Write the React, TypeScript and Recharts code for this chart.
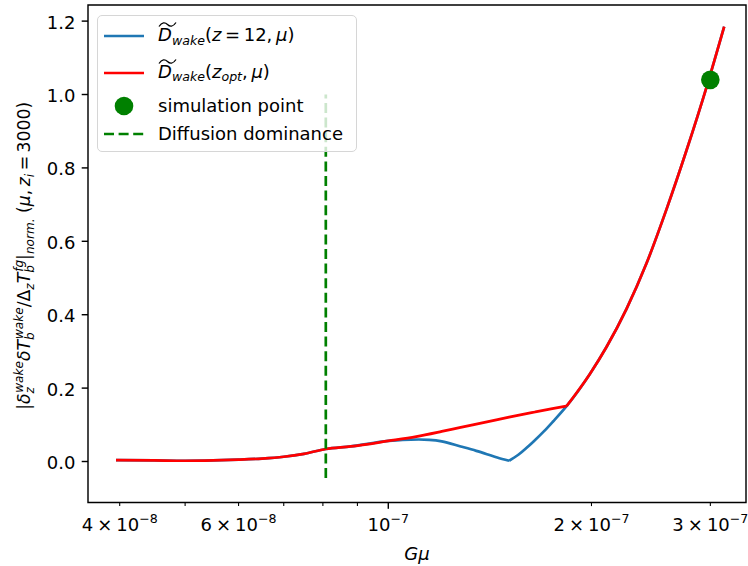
import React from 'react';
import { ComposedChart, Line, XAxis, YAxis, ReferenceArea, Legend } from 'recharts';

const W = 748;
const H = 566;
const FONT = '"DejaVu Sans", sans-serif';

// Low-tension part, where both redshift choices give the same signal
const GMU_LOW = [3.95e-8, 4.5e-8, 5.0e-8, 5.5e-8, 6.0e-8, 6.5e-8, 7.0e-8, 7.5e-8, 8.08e-8, 8.8e-8, 1.0e-7];
const D_LOW = [0.004, 0.003, 0.002, 0.003, 0.005, 0.008, 0.013, 0.021, 0.034, 0.041, 0.056];

// Fixed redshift z = 12: hump and fall to the zero crossing
const GMU_Z12_HUMP = [1.05e-7, 1.11e-7, 1.15e-7, 1.2e-7, 1.28e-7, 1.35e-7, 1.4e-7, 1.45e-7, 1.51e-7];
const D_Z12_HUMP = [0.059, 0.060, 0.059, 0.055, 0.041, 0.029, 0.020, 0.011, 0.002];

// Fixed redshift z = 12: rise after the zero crossing
const GMU_Z12_RISE = [1.51e-7, 1.56e-7, 1.6e-7, 1.64e-7, 1.7e-7, 1.754e-7];
const D_Z12_RISE = [0.002, 0.019, 0.036, 0.054, 0.082, 0.109];

// Optimal redshift, intermediate tensions
const GMU_ZOPT_MID = [1.1e-7, 1.2e-7, 1.28e-7, 1.4e-7, 1.51e-7, 1.65e-7, 1.75e-7];
const D_ZOPT_MID = [0.068, 0.082, 0.093, 0.108, 0.121, 0.135, 0.144];

// High tensions, where both curves coincide again
const GMU_HIGH = [1.837e-7, 1.988e-7, 2.105e-7, 2.254e-7, 2.413e-7, 2.583e-7, 2.766e-7, 2.96e-7, 3.145e-7];
const D_HIGH = [0.151, 0.238, 0.312, 0.416, 0.540, 0.687, 0.848, 1.019, 1.185];

// Simulation result
const SIM_GMU = [3.0e-7];
const SIM_D = [1.04];

// Diffusion dominance threshold
const DIFF_GMU = [8.08e-8, 8.08e-8];
const DIFF_D = [-0.045, 1.0];

// Axes
const X_MIN = 3.59e-8;
const X_MAX = 3.388e-7;
const Y_MIN = -0.1117;
const Y_MAX = 1.2439;
const X_TICKS = [4e-8, 5e-8, 6e-8, 7e-8, 8e-8, 9e-8, 1e-7, 2e-7, 3e-7];
const X_MAJOR = [1e-7];
const X_LABEL_AT = [4e-8, 6e-8, 1e-7, 2e-7, 3e-7];
const X_LABEL_MANT = ['4', '6', '', '2', '3'];
const X_LABEL_EXP = ['\u22128', '\u22128', '\u22127', '\u22127', '\u22127'];
const Y_TICKS = [0, 0.2, 0.4, 0.6, 0.8, 1.0, 1.2];

const COLOR_Z12 = '#1f77b4';
const COLOR_ZOPT = '#ff0000';
const COLOR_GREEN = '#008000';

const zip = (xs: number[], ys: number[]) => xs.map((x, i) => ({ x, y: ys[i] }));

// z = 12 curve: split at the cusp so it stays sharp
const z12Left = zip([...GMU_LOW, ...GMU_Z12_HUMP], [...D_LOW, ...D_Z12_HUMP]);
const z12Right = zip([...GMU_Z12_RISE, ...GMU_HIGH], [...D_Z12_RISE, ...D_HIGH]);
// z_opt curve: split at the kink where it joins the z = 12 branch
const zoptLeft = zip([...GMU_LOW, ...GMU_ZOPT_MID, GMU_HIGH[0]], [...D_LOW, ...D_ZOPT_MID, D_HIGH[0]]);
const zoptRight = zip(GMU_HIGH, D_HIGH);
const simData = zip(SIM_GMU, SIM_D);
const diffData = zip(DIFF_GMU, DIFF_D);

const same = (a: number, b: number) => Math.abs(a - b) / Math.abs(b) < 1e-6;

function XTick(props: any) {
  const { x, y, payload } = props;
  const v = payload.value as number;
  const major = X_MAJOR.some((m) => same(v, m));
  const idx = X_LABEL_AT.findIndex((t) => same(v, t));
  return (
    <g>
      <line x1={x} x2={x} y1={y} y2={y + (major ? 6.3 : 3.6)} stroke="#000" strokeWidth={major ? 1.44 : 1.08} />
      {idx >= 0 && (
        <text x={x} y={y + 28.5} textAnchor="middle" fontFamily={FONT} fontSize={18} fill="#000">
          {X_LABEL_MANT[idx] ? <tspan>{X_LABEL_MANT[idx]}</tspan> : null}
          {X_LABEL_MANT[idx] ? <tspan dx={4}>{'\u00d7'}</tspan> : null}
          <tspan dx={X_LABEL_MANT[idx] ? 4 : 0}>10</tspan>
          <tspan fontSize={12.6} dy={-8}>{X_LABEL_EXP[idx]}</tspan>
        </text>
      )}
    </g>
  );
}

function YTick(props: any) {
  const { x, y, payload } = props;
  return (
    <g>
      <line x1={x - 6.3} x2={x} y1={y} y2={y} stroke="#000" strokeWidth={1.44} />
      <text x={x - 12.6} y={y + 7.5} textAnchor="end" fontFamily={FONT} fontSize={18} fill="#000">
        {(payload.value as number).toFixed(1)}
      </text>
    </g>
  );
}

function XTitle(props: any) {
  const vb = props.viewBox || { x: 88, y: 502, width: 658, height: 64 };
  return (
    <text x={vb.x + vb.width / 2} y={vb.y + 57} textAnchor="middle" fontFamily={FONT} fontSize={18} fontStyle="italic" fill="#000">
      {'G\u03bc'}
    </text>
  );
}

function YTitle(props: any) {
  const vb = props.viewBox || { x: 0, y: 5, width: 88, height: 497 };
  const cx = vb.x + 30;
  const cy = vb.y + vb.height / 2 + 2;
  const s = 12.1;
  return (
    <text transform={`translate(${cx},${cy}) rotate(-90)`} textAnchor="middle" fontFamily={FONT} fontSize={17.3} fill="#000">
      <tspan>|</tspan>
      <tspan fontStyle="italic">{'\u03b4'}</tspan>
      <tspan fontStyle="italic" fontSize={s} dy={4}>z</tspan>
      <tspan fontStyle="italic" fontSize={s} dx={-5.8} dy={-11.5}>wake</tspan>
      <tspan fontStyle="italic" dy={7.5}>{'\u03b4T'}</tspan>
      <tspan fontStyle="italic" fontSize={s} dy={4}>b</tspan>
      <tspan fontStyle="italic" fontSize={s} dx={-6.8} dy={-11.5}>wake</tspan>
      <tspan dy={7.5}>{'/\u0394'}</tspan>
      <tspan fontStyle="italic" fontSize={s} dy={4}>z</tspan>
      <tspan fontStyle="italic" dy={-4}>T</tspan>
      <tspan fontStyle="italic" fontSize={s} dy={4}>b</tspan>
      <tspan fontStyle="italic" fontSize={s} dx={-6.8} dy={-11.5}>fg</tspan>
      <tspan dy={7.5}>|</tspan>
      <tspan fontStyle="italic" fontSize={s} dy={4}>norm.</tspan>
      <tspan dy={-4}>{' ('}</tspan>
      <tspan fontStyle="italic">{'\u03bc'}</tspan>
      <tspan>{',\u2009'}</tspan>
      <tspan fontStyle="italic">z</tspan>
      <tspan fontStyle="italic" fontSize={s} dy={4}>i</tspan>
      <tspan dy={-4}>{'\u2009=\u20093000)'}</tspan>
    </text>
  );
}

function DTilde() {
  return (
    <span style={{ position: 'relative', display: 'inline-block', fontStyle: 'italic' }}>
      D
      <svg style={{ position: 'absolute', left: 0, top: -3 }} width={19} height={7}>
        <path d="M1,5.5 C4,1 7,1 9.5,3.5 S15,6 18,1.5" stroke="#000" strokeWidth={1.3} fill="none" />
      </svg>
    </span>
  );
}

const sub: React.CSSProperties = { fontSize: '0.7em', fontStyle: 'italic', position: 'relative', top: '0.3em' };

function LegendLabelZ12() {
  return (
    <span>
      <DTilde />
      <span style={sub}>wake</span>(<i>z</i>{'\u2009=\u200912,\u2009'}<i>{'\u03bc'}</i>)
    </span>
  );
}

function LegendLabelZopt() {
  return (
    <span>
      <DTilde />
      <span style={sub}>wake</span>(<i>z</i>
      <span style={sub}>opt</span>{',\u2009'}<i>{'\u03bc'}</i>)
    </span>
  );
}

function LegendBox() {
  const row = (top: number, handle: React.ReactNode, label: React.ReactNode) => (
    <div style={{ position: 'absolute', left: 0, top, width: '100%', height: 0 }}>
      <div style={{ position: 'absolute', left: 6, top: 0, width: 40, height: 0 }}>{handle}</div>
      <div style={{ position: 'absolute', left: 60, top: 0, transform: 'translateY(-50%)', whiteSpace: 'nowrap', lineHeight: '22px' }}>
        {label}
      </div>
    </div>
  );
  const lineHandle = (color: string, dash?: string) => (
    <svg style={{ position: 'absolute', left: 0, top: -3 }} width={40} height={6}>
      <line x1={0} x2={40} y1={3} y2={3} stroke={color} strokeWidth={2.7} strokeDasharray={dash} />
    </svg>
  );
  return (
    <div
      style={{
        position: 'relative',
        width: 260,
        height: 137,
        boxSizing: 'border-box',
        border: '1.4px solid #d6d6d6',
        borderRadius: 5,
        background: 'rgba(255,255,255,0.8)',
        fontFamily: FONT,
        fontSize: 18,
        color: '#000',
      }}
    >
      {row(20, lineHandle(COLOR_Z12), <LegendLabelZ12 />)}
      {row(56.7, lineHandle(COLOR_ZOPT), <LegendLabelZopt />)}
      {row(
        90,
        <svg style={{ position: 'absolute', left: 10, top: -10 }} width={20} height={20}>
          <circle cx={10} cy={10} r={9.3} fill={COLOR_GREEN} />
        </svg>,
        <span>simulation point</span>
      )}
      {row(117.7, lineHandle(COLOR_GREEN, '10 4.6'), <span>Diffusion dominance</span>)}
    </div>
  );
}

const lineProps = { dataKey: 'y', type: 'monotone' as const, strokeWidth: 2.7, dot: false, activeDot: false, isAnimationActive: false };

export default function App() {
  return (
    <div style={{ position: 'absolute', left: 0, top: 0, width: W, height: H, background: '#fff' }}>
      <ComposedChart width={W} height={H} margin={{ top: 5, right: 2, bottom: 0, left: 0 }}>
        <XAxis
          dataKey="x"
          type="number"
          scale="log"
          domain={[X_MIN, X_MAX]}
          allowDataOverflow
          ticks={X_TICKS}
          interval={0}
          height={63.5}
          axisLine={false}
          tickLine={false}
          tickSize={0}
          tickMargin={0}
          tick={<XTick />}
          label={{ content: (p: any) => <XTitle {...p} /> }}
        />
        <YAxis
          type="number"
          domain={[Y_MIN, Y_MAX]}
          allowDataOverflow
          ticks={Y_TICKS}
          interval={0}
          width={88}
          axisLine={false}
          tickLine={false}
          tickSize={0}
          tickMargin={0}
          tick={<YTick />}
          label={{ content: (p: any) => <YTitle {...p} /> }}
        />
        <Line {...lineProps} data={z12Left} stroke={COLOR_Z12} />
        <Line {...lineProps} data={z12Right} stroke={COLOR_Z12} />
        <Line {...lineProps} data={zoptLeft} stroke={COLOR_ZOPT} />
        <Line {...lineProps} data={zoptRight} stroke={COLOR_ZOPT} />
        <Line
          data={simData}
          dataKey="y"
          stroke="none"
          isAnimationActive={false}
          activeDot={false}
          dot={(p: any) => <circle key={`sim-${p.index}`} cx={p.cx} cy={p.cy} r={9.3} fill={COLOR_GREEN} />}
        />
        <Line data={diffData} dataKey="y" type="linear" stroke={COLOR_GREEN} strokeWidth={2.7} strokeDasharray="10 4.6" dot={false} activeDot={false} isAnimationActive={false} />
        <ReferenceArea x1={X_MIN} x2={X_MAX} y1={Y_MIN} y2={Y_MAX} fill="none" fillOpacity={0} stroke="#000" strokeWidth={1.44} ifOverflow="visible" />
        <Legend
          layout="vertical"
          align="center"
          verticalAlign="middle"
          wrapperStyle={{ left: 97, top: 15, width: 260, height: 137 }}
          content={() => <LegendBox />}
        />
      </ComposedChart>
    </div>
  );
}
